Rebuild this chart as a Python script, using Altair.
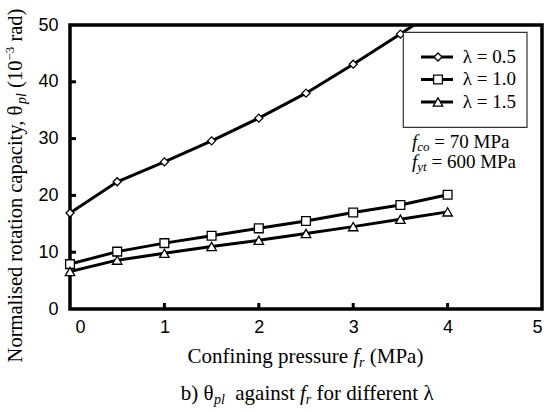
import altair as alt
import pandas as pd

# ---------------- data ----------------
confining_pressure = [0, 0.5, 1, 1.5, 2, 2.5, 3, 3.5, 4]
theta_lambda_05 = [16.9, 22.4, 25.9, 29.6, 33.6, 38.0, 43.1, 48.4, 54.0]
theta_lambda_10 = [7.9, 10.1, 11.6, 12.9, 14.2, 15.5, 17.0, 18.3, 20.1]
theta_lambda_15 = [6.6, 8.6, 9.8, 11.0, 12.1, 13.3, 14.5, 15.8, 17.1]
series_labels = ["λ = 0.5", "λ = 1.0", "λ = 1.5"]
series_shapes = ["diamond", "square", "triangle-up"]
series_sizes = [64, 90, 80]
x_tick_labels = [0, 1, 2, 3, 4, 5]
y_tick_labels = [0, 10, 20, 30, 40, 50]
x_inner_ticks = [1, 2, 3, 4]
y_inner_ticks = [10, 20, 30, 40]

SERIF = "'Liberation Serif', 'Times New Roman', Times, serif"
SANS = "'Liberation Sans', Arial, Helvetica, sans-serif"

# ---------------- layout ----------------
W, H = 472, 284
PL, PT = 70, 25
XMAX, YMAX = 5, 50


def to_xd(px):
    return px / W * XMAX


def to_yd(py):
    return YMAX * (1 - py / H)


rows = []
for lab, vals in zip(series_labels, [theta_lambda_05, theta_lambda_10, theta_lambda_15]):
    for xv, yv in zip(confining_pressure, vals):
        rows.append({"x": xv, "y": yv, "series": lab})
df = pd.DataFrame(rows)

xs = alt.Scale(domain=[0, XMAX], nice=False, zero=False)
ys = alt.Scale(domain=[0, YMAX], nice=False, zero=False)
shape_scale = alt.Scale(domain=series_labels, range=series_shapes)
size_scale = alt.Scale(domain=series_labels, range=series_sizes)

x_axis = alt.Axis(values=x_tick_labels, title=None, domain=False, ticks=False,
                  grid=False, labelFont=SANS, labelFontSize=18,
                  labelColor="black", labelPadding=9,
                  labelOffset={"condition": {"test": "datum.value == 0", "value": 5}, "value": 0})
y_axis = alt.Axis(values=y_tick_labels, title=None, domain=False, ticks=False,
                  grid=False, labelFont=SANS, labelFontSize=18,
                  labelColor="black", labelPadding=12)


def XQ(field):
    return alt.X(field, type="quantitative", scale=xs, axis=x_axis)


def YQ(field):
    return alt.Y(field, type="quantitative", scale=ys, axis=y_axis)


lines = alt.Chart(df).mark_line(color="black", strokeWidth=3, clip=True).encode(
    x=XQ("x"), y=YQ("y"), detail="series:N")
points = alt.Chart(df).transform_filter(f"datum.y <= {YMAX}").mark_point(
    filled=True, fill="white", stroke="black", strokeWidth=1.3, opacity=1).encode(
    x=XQ("x"), y=YQ("y"),
    shape=alt.Shape("series:N", scale=shape_scale, legend=None),
    size=alt.Size("series:N", scale=size_scale, legend=None))

# inner ticks
ytk = pd.DataFrame({"v": y_inner_ticks})
xtk = pd.DataFrame({"v": x_inner_ticks})
ytick_layer = alt.Chart(ytk).mark_rule(color="black", strokeWidth=3).encode(
    y=YQ("v"), x=alt.value(0), x2=alt.value(6))
xtick_layer = alt.Chart(xtk).mark_rule(color="black", strokeWidth=3).encode(
    x=XQ("v"), y=alt.value(H), y2=alt.value(H - 6))

# legend (drawn from the series lists)
leg_px_y = [32, 54.5, 77]
leg = pd.DataFrame({"series": series_labels, "ly": [to_yd(v) for v in leg_px_y],
                    "ty": [to_yd(v + 5.7) for v in leg_px_y]})
box = alt.Chart(pd.DataFrame({"a": [0]})).mark_rect(
    fill="white", stroke="#333333", strokeWidth=1.2).encode(
    x=alt.value(333.3), x2=alt.value(457), y=alt.value(7.3), y2=alt.value(102.3))
leg_lines = alt.Chart(leg).mark_rule(color="black", strokeWidth=3).encode(
    y=YQ("ly"), x=alt.value(351), x2=alt.value(383))
leg_pts = alt.Chart(leg).mark_point(filled=True, fill="white", stroke="black",
                                    strokeWidth=1.3, opacity=1).encode(
    y=YQ("ly"), x=alt.value(368),
    shape=alt.Shape("series:N", scale=shape_scale, legend=None),
    size=alt.Size("series:N", scale=size_scale, legend=None))
leg_txt = alt.Chart(leg).mark_text(font=SERIF, fontSize=19, align="left",
                                   baseline="alphabetic", color="black").encode(
    y=YQ("ty"), x=alt.value(392.7), text="series:N")

# ---------------- rich text (titles with subscripts) ----------------
REG = {" ": 250, "(": 333, ")": 333, ",": 250, "=": 564, "−": 564, "θ": 500, "λ": 500,
       "C": 667, "M": 889, "N": 722, "P": 556,
       "a": 444, "b": 500, "c": 444, "d": 500, "e": 444, "f": 333, "g": 500, "h": 500,
       "i": 278, "l": 278, "m": 778, "n": 500, "o": 500, "p": 500, "r": 333, "s": 389,
       "t": 278, "u": 500, "y": 500}
ITA = {"p": 500, "l": 278, "f": 278, "r": 389, "c": 444, "o": 500, "y": 444, "t": 278}


def tw(s, size, italic):
    tab = ITA if italic else REG
    return sum(tab.get(c, 500) for c in s) * size / 1000.0


def horiz(pieces, cx=None, x0=None, base=0):
    total = sum(tw(t, s, it) for t, s, it, sh in pieces)
    cur = x0 if x0 is not None else cx - total / 2
    out = []
    for t, s, it, sh in pieces:
        lead = len(t) - len(t.lstrip(" "))
        out.append({"x": to_xd(cur + tw(" " * lead, s, it)), "y": to_yd(base + sh),
                    "text": t.strip(), "size": s, "angle": 0, "it": it})
        cur += tw(t, s, it)
    return out


def vert(pieces, cy, base):
    total = sum(tw(t, s, it) for t, s, it, sh in pieces)
    cur = cy + total / 2
    out = []
    for t, s, it, sh in pieces:
        lead = len(t) - len(t.lstrip(" "))
        out.append({"x": to_xd(base + sh), "y": to_yd(cur - tw(" " * lead, s, it)),
                    "text": t.strip(), "size": s, "angle": 270, "it": it})
        cur -= tw(t, s, it)
    return out


trows = []
trows += vert([("Normalised rotation capacity, θ", 20.5, False, 0),
               ("pl", 14, True, 4),
               (" (10", 20.5, False, 0),
               ("−3", 13, False, -8),
               (" rad)", 20.5, False, 0)], cy=160.5, base=-48)
trows += horiz([("Confining pressure ", 21, False, 0),
                ("f", 21, True, 0),
                ("r", 14, True, 4),
                (" (MPa)", 21, False, 0)], cx=235.5, base=338)
trows += horiz([("b) θ", 21, False, 0),
                ("pl", 14, True, 4),
                ("  against ", 21, False, 0),
                ("f", 21, True, 0),
                ("r", 14, True, 4),
                (" for different λ", 21, False, 0)], cx=237.5, base=375)
trows += horiz([("f", 19, True, 0), ("co", 13, True, 3), (" = 70 MPa", 19, False, 0)],
               x0=342, base=123)
trows += horiz([("f", 19, True, 0), ("yt", 13, True, 3), (" = 600 MPa", 19, False, 0)],
               x0=342, base=142.5)
tdf = pd.DataFrame(trows)


def text_layer(sub, style):
    return alt.Chart(sub).mark_text(font=SERIF, fontStyle=style, align="left",
                                    baseline="alphabetic", color="black").encode(
        x=XQ("x"), y=YQ("y"),
        text="text:N",
        size=alt.Size("size:Q", scale=None, legend=None),
        angle=alt.Angle("angle:Q", scale=None))


txt_reg = text_layer(tdf[~tdf["it"]].drop(columns="it"), "normal")
txt_ita = text_layer(tdf[tdf["it"]].drop(columns="it"), "italic")

chart = alt.layer(
    lines, ytick_layer, xtick_layer, points, box, leg_lines, leg_pts, leg_txt, txt_reg, txt_ita
).properties(
    width=W, height=H, autosize="none",
    padding={"left": PL, "top": PT, "right": 548 - PL - W, "bottom": 412 - PT - H},
    background="white",
).configure_view(stroke="black", strokeWidth=3.5)

chart.save("out.html", embed_options={"renderer": "svg", "actions": False})
